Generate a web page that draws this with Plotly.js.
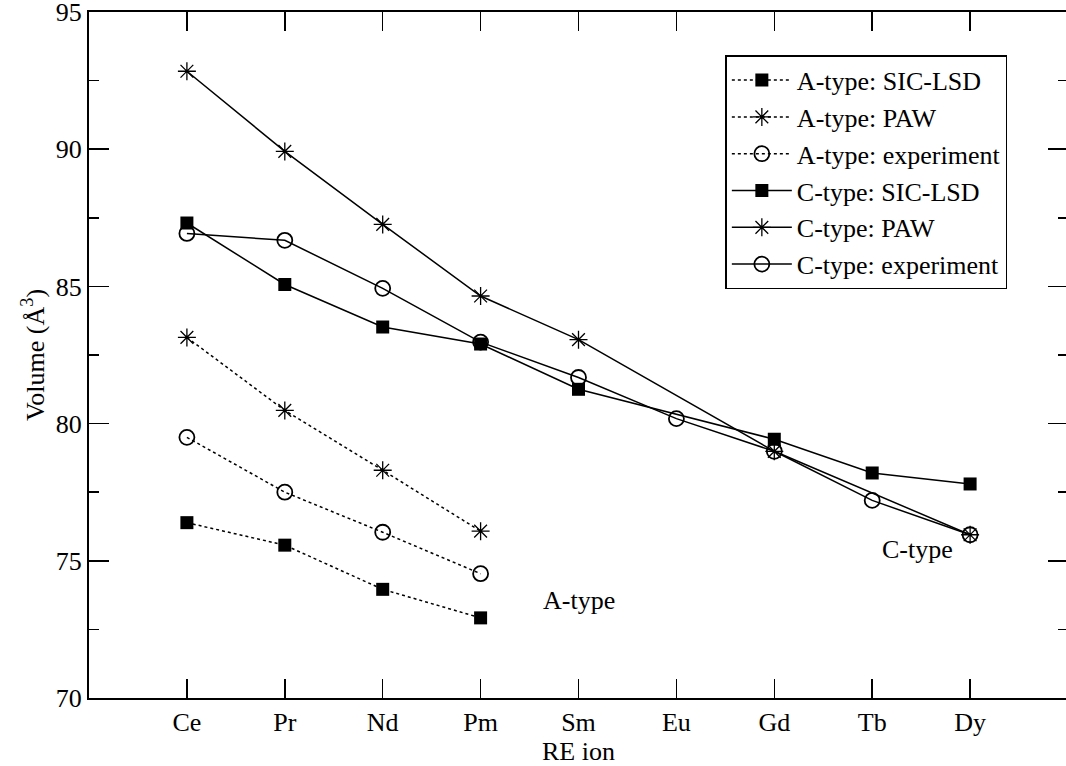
<!DOCTYPE html>
<html>
<head>
<meta charset="utf-8">
<script src="https://cdn.plot.ly/plotly-3.0.1.min.js"></script>
<style>
html,body{margin:0;padding:0;overflow:hidden;background:#fff;}
#chart{width:1068px;height:766px;}
</style>
</head>
<body>
<div id="chart"></div>
<script>
// Categories (RE ions)
const categories = ["Ce", "Pr", "Nd", "Pm", "Sm", "Eu", "Gd", "Tb", "Dy"];

// A-type series (Ce..Pm)
const aTypeIons = ["Ce", "Pr", "Nd", "Pm"];
const aSicLsd = [76.39, 75.57, 73.96, 72.92];
const aPaw = [83.14, 80.48, 78.30, 76.08];
const aExperiment = [79.50, 77.50, 76.04, 74.53];

// C-type series
const cSicLsdIons = ["Ce", "Pr", "Nd", "Pm", "Sm", "Gd", "Tb", "Dy"];
const cSicLsd = [87.31, 85.07, 83.52, 82.90, 81.25, 79.43, 78.20, 77.80];
const cPawIons = ["Ce", "Pr", "Nd", "Pm", "Sm", "Gd", "Dy"];
const cPaw = [92.84, 89.92, 87.26, 84.65, 83.06, 78.99, 75.95];
const cExpIons = ["Ce", "Pr", "Nd", "Pm", "Sm", "Eu", "Gd", "Tb", "Dy"];
const cExperiment = [86.93, 86.68, 84.93, 82.97, 81.68, 80.18, 78.99, 77.20, 75.95];

const yTicks = [70, 75, 80, 85, 90, 95];

const FONT = "Liberation Serif";
const sq = {symbol: "square", size: 13, color: "#000"};
const st = {symbol: "asterisk-open", size: 15, color: "#000", line: {color: "#000", width: 1.3}};
const ci = {symbol: "circle-open", size: 15, color: "#000", line: {color: "#000", width: 1.8}};

const traces = [
  {x: aTypeIons, y: aSicLsd, name: "A-type: SIC-LSD", mode: "lines+markers",
   line: {color: "#000", width: 1.5, dash: "dot"}, marker: sq},
  {x: aTypeIons, y: aPaw, name: "A-type: PAW", mode: "lines+markers",
   line: {color: "#000", width: 1.5, dash: "dot"}, marker: st},
  {x: aTypeIons, y: aExperiment, name: "A-type: experiment", mode: "lines+markers",
   line: {color: "#000", width: 1.5, dash: "dot"}, marker: ci},
  {x: cSicLsdIons, y: cSicLsd, name: "C-type: SIC-LSD", mode: "lines+markers",
   line: {color: "#000", width: 1.5}, marker: sq},
  {x: cPawIons, y: cPaw, name: "C-type: PAW", mode: "lines+markers",
   line: {color: "#000", width: 1.5}, marker: st},
  {x: cExpIons, y: cExperiment, name: "C-type: experiment", mode: "lines+markers",
   line: {color: "#000", width: 1.5}, marker: ci}
];

const layout = {
  width: 1068, height: 766,
  margin: {l: 89, r: 0, t: 12, b: 68},
  paper_bgcolor: "#fff", plot_bgcolor: "#fff",
  font: {family: FONT, size: 26, color: "#000"},
  showlegend: true,
  legend: {
    x: 0.65, y: 0.937, xanchor: "left", yanchor: "top",
    bgcolor: "#fff", bordercolor: "#000", borderwidth: 1.5,
    font: {family: FONT, size: 26, color: "#000"},
    itemwidth: 60, tracegroupgap: 0
  },
  xaxis: {
    type: "category", categoryorder: "array", categoryarray: categories,
    range: [-1, 9],
    tickmode: "array", tickvals: categories, ticktext: categories,
    ticks: "inside", ticklen: 19, tickwidth: 1.5, tickcolor: "#000",
    showline: true, linecolor: "#000", linewidth: 2, mirror: "ticks",
    showgrid: false, zeroline: false,
    tickfont: {family: FONT, size: 26},
    title: {text: "RE ion", font: {family: FONT, size: 26}, standoff: 2}
  },
  yaxis: {
    range: [70, 95],
    tickmode: "array", tickvals: yTicks,
    ticklabeloverflow: "allow",
    ticks: "inside", ticklen: 20, tickwidth: 1.5, tickcolor: "#000",
    minor: {dtick: 2.5, ticks: "inside", ticklen: 10, tickwidth: 1.5, tickcolor: "#000"},
    showline: true, linecolor: "#000", linewidth: 2, mirror: "ticks",
    showgrid: false, zeroline: false,
    tickfont: {family: FONT, size: 26},
    title: {text: "Volume (Å<sup>3</sup>)", font: {family: FONT, size: 26}, standoff: 4}
  },
  annotations: [
    {x: 4, y: 73.57, xref: "x", yref: "y", text: "A-type", showarrow: false,
     font: {family: FONT, size: 26, color: "#000"}},
    {x: 7.46, y: 75.43, xref: "x", yref: "y", text: "C-type", showarrow: false,
     font: {family: FONT, size: 26, color: "#000"}}
  ]
};

Plotly.newPlot("chart", traces, layout, {displayModeBar: false, staticPlot: true});
</script>
</body>
</html>
